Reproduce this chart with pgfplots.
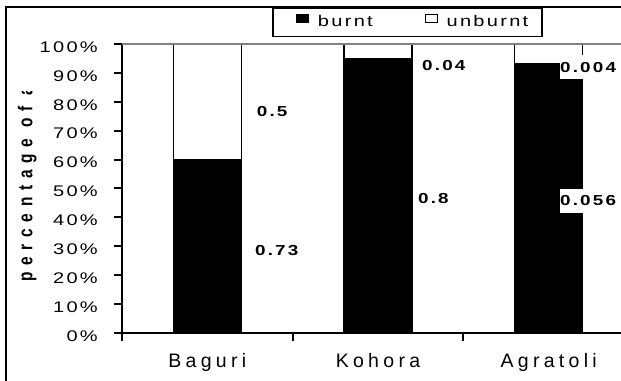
\documentclass[border=0pt]{standalone}
\usepackage{pgfplots}
\pgfplotsset{compat=1.18}
\usetikzlibrary{calc}
\usepackage{fontspec}
\setmainfont{Liberation Sans}
\newfontfamily\tickfont[FakeStretch=1.3,LetterSpace=15]{Liberation Sans}
\newfontfamily\catfont[LetterSpace=22]{Liberation Sans}
\newfontfamily\ylabfont[LetterSpace=44]{Liberation Sans}
\newcommand\tfs{\tickfont\fontsize{15.4bp}{18bp}\selectfont}
\newcommand\cfs{\catfont\fontsize{19.5bp}{22bp}\selectfont}
\newcommand\dfs{\tickfont\bfseries\fontsize{14.5bp}{17bp}\selectfont}
\begin{document}
\begin{tikzpicture}
\useasboundingbox (0,0) rectangle (621bp,381bp);
\clip (0,0) rectangle (621bp,381bp);
\draw[line width=2bp] (6bp,-20bp) -- (6bp,374bp) -- (700bp,374bp);
\begin{scope}
\clip (0,0) rectangle (60bp,289bp);
\node[rotate=90, anchor=base west, inner sep=0pt] at (32.4bp,99bp)
  {\scalebox{1}[1.3]{\ylabfont\bfseries\fontsize{15.4bp}{18bp}\selectfont percentage of area}};
\end{scope}
\begin{axis}[
  at={(122bp,48bp)}, anchor=south west,
  scale only axis, width=512bp, height=289bp,
  xmin=-0.5, xmax=2.5, ymin=0, ymax=100,
  clip=false,
  ybar stacked, bar width=68bp,
  axis x line*=bottom, axis y line*=left,
  axis line style={line width=2bp, black},
  tick align=outside,
  major tick length=8bp,
  every tick/.style={draw=black, line width=2bp},
  /pgf/number format/assume math mode=true,
  ytick={0,10,...,100},
  yticklabel={\pgfmathprintnumber{\tick}\%},
  yticklabel style={font=\tfs, anchor=east, inner sep=0pt, xshift=-16bp, yshift=-3bp},
  xtick={-0.5,0.5,1.5,2.5},
  xticklabels={},
  extra x ticks={0,1,2},
  extra x tick labels={Baguri,Kohora,Agratoli},
  extra x tick style={major tick length=0pt, tick style={draw=none},
    xticklabel style={font=\cfs, anchor=base, inner sep=0pt, yshift=-35bp}},
  legend columns=2,
  legend cell align=left,
  legend style={at={(axis description cs:0.293,1.128)}, anchor=north west,
    draw=black, line width=1.5bp, font=\tfs, inner xsep=11.5bp, inner ysep=6bp,
    /tikz/every odd column/.append style={column sep=7bp},
    /tikz/every even column/.append style={column sep=50bp}},
]
\draw[gray, line width=2bp] (axis cs:-0.5,100) -- (axis cs:2.5,100);
\addplot[fill=black, draw=black, line width=1.5bp,
  legend image code/.code={\path (-11.5bp,0bp); \draw[fill=black, line width=0.8bp] (0bp,0bp) rectangle (12bp,8bp);}]
  coordinates {(0,60) (1,95) (2,93)};
\addplot[fill=white, draw=black, line width=1.5bp,
  legend image code/.code={\draw[fill=white, line width=0.8bp] (0bp,0bp) rectangle (12bp,8bp);}]
  coordinates {(0,40) (1,5) (2,7)};
\legend{burnt,unburnt}
\coordinate (T0) at (axis cs:-0.5,0);
\coordinate (T100) at (axis cs:-0.5,100);
\coordinate (L1) at (axis cs:0.289,76.8);
\coordinate (L2) at (axis cs:0.279,28.4);
\coordinate (L3) at (axis cs:1.258,92.7);
\coordinate (L4) at (axis cs:1.234,46.7);
\coordinate (L5) at (axis cs:2.066,92.0);
\coordinate (L6) at (axis cs:2.066,45.7);
\end{axis}
\foreach \i in {0,...,10} {
  \draw[black, line width=2bp] ($(T0)!\i/10!(T100)$) -- ++(-8bp,0pt);
}
\begin{scope}[every node/.style={anchor=west, inner xsep=0pt, inner ysep=6.5bp, fill=white, font=\dfs}]
\node at (L1) {0.5};
\node at (L2) {0.73};
\node at (L3) {0.04};
\node at (L4) {0.8};
\node at (L5) {0.004};
\node at (L6) {0.056};
\end{scope}
\end{tikzpicture}
\end{document}
